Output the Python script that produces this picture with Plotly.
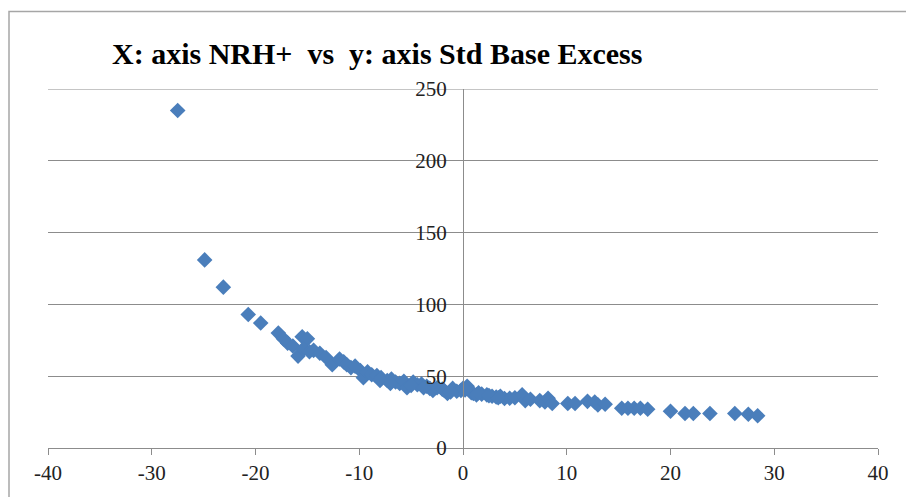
import plotly.graph_objects as go

nrh = [-27.5, -24.9, -23.1, -20.7, -19.5, -17.8, -17.3, -16.9, -16.4, -15.5,
       -15.0, -15.9, -15.4, -14.8, -14.4, -13.8, -13.2, -12.6, -11.9, -11.5,
       -11.2, -10.8, -10.4, -9.9, -9.6, -9.2, -8.8, -8.3, -7.9, -7.3,
       -6.9, -6.5, -6.1, -5.7, -5.4, -4.8, -4.4, -4.0, -3.5, -3.2,
       -2.9, -2.5, -2.0, -1.5, -1.0, -0.6, -0.2, 0.0, 0.4, 0.8,
       1.0, 1.3, 1.8, 2.3, 2.8, 3.2, 3.6, 4.0, 4.5, 5.0,
       5.7, 6.0, 6.5, 7.4, 7.9, 8.2, 8.6, 10.1, 10.8, 12.0,
       12.7, 13.0, 13.7, 15.3, 15.9, 16.5, 17.1, 17.8, 20.0, 21.4,
       22.2, 23.8, 26.2, 27.5, 28.4,
       -8.0, -7.0, -5.0, -3.8, -1.8, -1.2, 0.2, 1.5, 2.5, 3.4]
sbe = [235, 131, 112, 93, 87, 80, 76, 73, 71, 77.5,
       76, 64, 69, 67, 68, 66, 63, 58, 62, 60,
       58, 56, 57, 54, 49, 53, 51, 50.5, 49, 47,
       48, 46, 45, 46.5, 42, 46, 44, 44.5, 43, 41.5,
       40, 42, 41, 38, 41.5, 39.5, 40, 41.5, 43, 38.5,
       38, 37, 37.5, 37, 36, 35.5, 36, 34.5, 34.6, 35,
       37, 33, 34, 33, 32, 34.6, 31, 31, 31, 32.5,
       32, 30, 30.5, 27.7, 27.7, 27.7, 27.7, 27, 25.6, 24,
       24, 24, 24, 23.5, 22.5,
       47, 45, 43.5, 42, 40, 39, 40.5, 38.5, 36.5, 35]

x_ticks = [-40, -30, -20, -10, 0, 10, 20, 30, 40]
x_tick_labels = ["-40", "-30", "-20", "-10", "0", "10", "20", "30", "40"]
y_ticks = [0, 50, 100, 150, 200, 250]

grid = "#8c8c8c"
serif = "Liberation Serif, Times New Roman, serif"

fig = go.Figure()
fig.add_trace(go.Scatter(
    x=nrh, y=sbe, mode="markers",
    marker=dict(symbol="diamond", size=12, color="#4a7ebb", line=dict(width=0)),
    showlegend=False, hoverinfo="x+y"))

L, R, T, B = 48, 28, 89, 47
W, H = 906, 497
pw, ph = W - L - R, H - T - B

def px_to_paper_x(px):
    return (px - L) / pw

def px_to_paper_y(py):
    return (H - B - py) / ph

fig.update_layout(
    width=W, height=H,
    margin=dict(l=L, r=R, t=T, b=B),
    paper_bgcolor="white", plot_bgcolor="white",
    title=dict(text="<b>X: axis NRH+  vs  y: axis Std Base Excess</b>",
               font=dict(family=serif, size=30, color="black"),
               x=112 / W, xanchor="left", xref="container",
               y=1 - 53 / H, yanchor="middle", yref="container"),
    xaxis=dict(range=[-40, 40], tickvals=x_ticks, ticktext=x_tick_labels,
               showgrid=False, zeroline=False,
               showline=True, linecolor=grid, linewidth=1,
               ticks="outside", ticklen=6, tickcolor=grid, tickwidth=1,
               tickfont=dict(family=serif, size=21, color="#222222")),
    yaxis=dict(range=[0, 250], tickvals=y_ticks, showgrid=True, gridcolor=grid,
               gridwidth=1, zeroline=False, anchor="free", position=0.5,
               showline=True, linecolor=grid, linewidth=1, ticks="",
               ticklabelstandoff=12,
               tickfont=dict(family=serif, size=21, color="#222222")),
    shapes=[dict(type="rect", xref="paper", yref="paper",
                 x0=px_to_paper_x(9), x1=px_to_paper_x(915),
                 y0=px_to_paper_y(510), y1=px_to_paper_y(11),
                 line=dict(color="#a6a6a6", width=1.5), layer="below"),
            dict(type="line", xref="paper", yref="y",
                 x0=0, x1=1, y0=250, y1=250,
                 line=dict(color=grid, width=1), layer="below")],
)

fig.write_html("out.html")
